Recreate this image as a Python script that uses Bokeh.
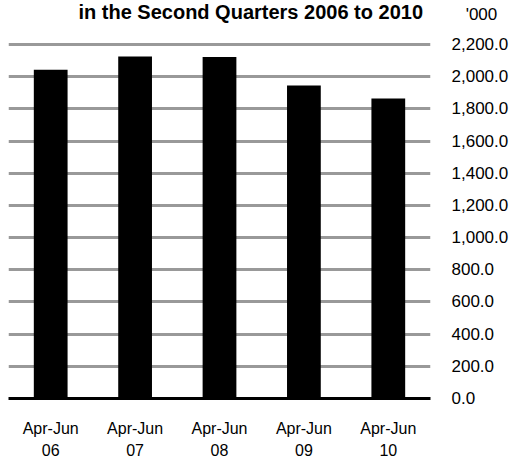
from bokeh.plotting import figure
from bokeh.models import FixedTicker, NumeralTickFormatter, FactorRange, Range1d
from bokeh.core.properties import value
from bokeh.embed import file_html
from bokeh.resources import INLINE

categories = ["Apr-Jun\n06", "Apr-Jun\n07", "Apr-Jun\n08", "Apr-Jun\n09", "Apr-Jun\n10"]
values = [2043, 2126, 2122, 1946, 1864]
y_ticks = [0, 200, 400, 600, 800, 1000, 1200, 1400, 1600, 1800, 2000, 2200]
title_text = "in the Second Quarters 2006 to 2010"
unit_text = "'000"

FONT = "Liberation Sans"
UNIT_POS = 2386      # where the unit note sits on the value axis
TITLE_Y = 2405       # vertical middle of the title line
TITLE_X = 2.87       # horizontal centre of the title (category units)

p = figure(x_range=FactorRange(*categories, range_padding=0),
           y_range=Range1d(0, 2473.5),
           width=512, height=459, output_backend="svg", toolbar_location=None,
           y_axis_location="right",
           min_border_left=8, min_border_top=0, min_border_right=82, min_border_bottom=61)
p.frame_width = 422
p.frame_height = 398
p.outline_line_color = None
p.background_fill_color = "white"
p.border_fill_color = "white"

# grid
p.xgrid.grid_line_color = None
p.ygrid.ticker = FixedTicker(ticks=y_ticks)
p.ygrid.grid_line_color = "#999999"
p.ygrid.grid_line_width = 3

p.vbar(x=categories, top=values, width=0.4, color="black", line_color=None)

p.text(x=[TITLE_X], y=[TITLE_Y], text=[title_text], text_font=value(FONT),
       text_font_size="20px", text_font_style="bold", text_align="center",
       text_baseline="middle", text_color="black")

# y axis on right
ya = p.yaxis[0]
ya.ticker = FixedTicker(ticks=y_ticks + [UNIT_POS])
ya.formatter = NumeralTickFormatter(format="0,0.0")
ya.major_label_overrides = {UNIT_POS: "\u00a0\u00a0\u00a0" + unit_text}
ya.axis_line_color = None
ya.major_tick_line_color = None
ya.minor_tick_line_color = None
ya.major_label_standoff = 15
ya.major_label_text_font = FONT
ya.major_label_text_font_size = "17px"
ya.major_label_text_color = "black"

# x axis
xa = p.xaxis[0]
xa.axis_line_color = "black"
xa.axis_line_width = 3
xa.major_tick_line_color = None
xa.minor_tick_line_color = None
xa.major_label_standoff = 15
xa.major_label_text_font = FONT
xa.major_label_text_font_size = "16px"
xa.major_label_text_line_height = 1.35
xa.major_label_text_color = "black"

open("out.html", "w").write(file_html(p, INLINE))
